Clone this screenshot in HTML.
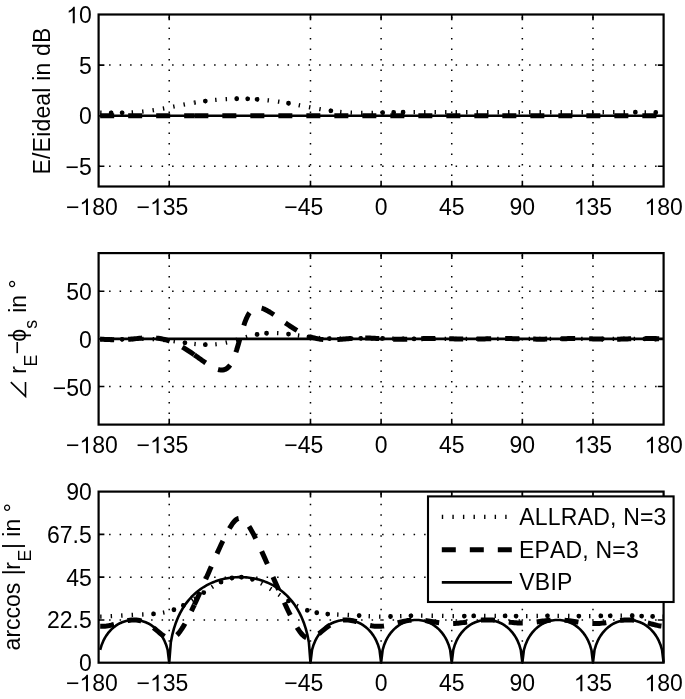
<!DOCTYPE html>
<html><head><meta charset="utf-8"><style>
html,body{margin:0;padding:0;background:#fff;overflow:hidden}
svg{display:block;filter:grayscale(1)}
text{font-family:"Liberation Sans",sans-serif;font-size:23px;fill:#000;font-kerning:none}
</style></head><body>
<svg width="685" height="699" viewBox="0 0 685 699">
<rect width="685" height="699" fill="#fff"/>
<path d="M169.22,186.50L169.22,14.50M310.48,186.50L310.48,14.50M381.10,186.50L381.10,14.50M451.73,186.50L451.73,14.50M522.35,186.50L522.35,14.50M592.98,186.50L592.98,14.50M98.60,166.26L663.60,166.26M98.60,115.68L663.60,115.68M98.60,65.09L663.60,65.09" stroke="#000" stroke-width="1.5" stroke-dasharray="1.5 9.0" fill="none"/>
<g stroke="#000" fill="none" stroke-linejoin="round">
<path d="M100.17,115.68 L101.74,115.68 L103.31,115.68 L104.88,115.68 L106.45,115.68 L108.02,115.68 L109.59,115.68 L111.16,115.68 L112.72,115.68 L114.29,115.68 L115.86,115.68 L117.43,115.68 L119.00,115.68 L120.57,115.68 L122.14,115.68 L123.71,115.68 L125.28,115.68 L126.85,115.68 L128.42,115.68 L129.99,115.68 L131.56,115.68 L133.13,115.68 L134.70,115.68 L136.27,115.68 L137.84,115.68 L139.41,115.68 L140.97,115.68 L142.54,115.68 L144.11,115.68 L145.68,115.68 L147.25,115.68 L148.82,115.68 L150.39,115.68 L151.96,115.68 L153.53,115.68 L155.10,115.68 L156.67,115.68 L158.24,115.68 L159.81,115.68 L161.38,115.68 L162.95,115.68 L164.52,115.68 L166.09,115.68 L167.66,115.68 L169.22,115.68 L170.79,115.68 L172.36,115.68 L173.93,115.68 L175.50,115.68 L177.07,115.68 L178.64,115.68 L180.21,115.68 L181.78,115.68 L183.35,115.68 L184.92,115.68 L186.49,115.68 L188.06,115.68 L189.63,115.68 L191.20,115.68 L192.77,115.68 L194.34,115.68 L195.91,115.68 L197.47,115.68 L199.04,115.68 L200.61,115.68 L202.18,115.68 L203.75,115.68 L205.32,115.68 L206.89,115.68 L208.46,115.68 L210.03,115.68 L211.60,115.68 L213.17,115.68 L214.74,115.68 L216.31,115.68 L217.88,115.68 L219.45,115.68 L221.02,115.68 L222.59,115.68 L224.16,115.68 L225.72,115.68 L227.29,115.68 L228.86,115.68 L230.43,115.68 L232.00,115.68 L233.57,115.68 L235.14,115.68 L236.71,115.68 L238.28,115.68 L239.85,115.68 L241.42,115.68 L242.99,115.68 L244.56,115.68 L246.13,115.68 L247.70,115.68 L249.27,115.68 L250.84,115.68 L252.41,115.68 L253.97,115.68 L255.54,115.68 L257.11,115.68 L258.68,115.68 L260.25,115.68 L261.82,115.68 L263.39,115.68 L264.96,115.68 L266.53,115.68 L268.10,115.68 L269.67,115.68 L271.24,115.68 L272.81,115.68 L274.38,115.68 L275.95,115.68 L277.52,115.68 L279.09,115.68 L280.66,115.68 L282.23,115.68 L283.79,115.68 L285.36,115.68 L286.93,115.68 L288.50,115.68 L290.07,115.68 L291.64,115.68 L293.21,115.68 L294.78,115.68 L296.35,115.68 L297.92,115.68 L299.49,115.68 L301.06,115.68 L302.63,115.68 L304.20,115.68 L305.77,115.68 L307.34,115.68 L308.91,115.68 L310.48,115.68 L312.04,115.68 L313.61,115.68 L315.18,115.68 L316.75,115.68 L318.32,115.68 L319.89,115.68 L321.46,115.68 L323.03,115.68 L324.60,115.68 L326.17,115.68 L327.74,115.68 L329.31,115.68 L330.88,115.68 L332.45,115.68 L334.02,115.68 L335.59,115.68 L337.16,115.68 L338.73,115.68 L340.29,115.68 L341.86,115.68 L343.43,115.68 L345.00,115.68 L346.57,115.68 L348.14,115.68 L349.71,115.68 L351.28,115.68 L352.85,115.68 L354.42,115.68 L355.99,115.68 L357.56,115.68 L359.13,115.68 L360.70,115.68 L362.27,115.68 L363.84,115.68 L365.41,115.68 L366.98,115.68 L368.54,115.68 L370.11,115.68 L371.68,115.68 L373.25,115.68 L374.82,115.68 L376.39,115.68 L377.96,115.68 L379.53,115.68 L381.10,115.68 L382.67,115.68 L384.24,115.68 L385.81,115.68 L387.38,115.68 L388.95,115.68 L390.52,115.68 L392.09,115.68 L393.66,115.68 L395.23,115.68 L396.79,115.68 L398.36,115.68 L399.93,115.68 L401.50,115.68 L403.07,115.68 L404.64,115.68 L406.21,115.68 L407.78,115.68 L409.35,115.68 L410.92,115.68 L412.49,115.68 L414.06,115.68 L415.63,115.68 L417.20,115.68 L418.77,115.68 L420.34,115.68 L421.91,115.68 L423.48,115.68 L425.04,115.68 L426.61,115.68 L428.18,115.68 L429.75,115.68 L431.32,115.68 L432.89,115.68 L434.46,115.68 L436.03,115.68 L437.60,115.68 L439.17,115.68 L440.74,115.68 L442.31,115.68 L443.88,115.68 L445.45,115.68 L447.02,115.68 L448.59,115.68 L450.16,115.68 L451.73,115.68 L453.29,115.68 L454.86,115.68 L456.43,115.68 L458.00,115.68 L459.57,115.68 L461.14,115.68 L462.71,115.68 L464.28,115.68 L465.85,115.68 L467.42,115.68 L468.99,115.68 L470.56,115.68 L472.13,115.68 L473.70,115.68 L475.27,115.68 L476.84,115.68 L478.41,115.68 L479.98,115.68 L481.54,115.68 L483.11,115.68 L484.68,115.68 L486.25,115.68 L487.82,115.68 L489.39,115.68 L490.96,115.68 L492.53,115.68 L494.10,115.68 L495.67,115.68 L497.24,115.68 L498.81,115.68 L500.38,115.68 L501.95,115.68 L503.52,115.68 L505.09,115.68 L506.66,115.68 L508.23,115.68 L509.79,115.68 L511.36,115.68 L512.93,115.68 L514.50,115.68 L516.07,115.68 L517.64,115.68 L519.21,115.68 L520.78,115.68 L522.35,115.68 L523.92,115.68 L525.49,115.68 L527.06,115.68 L528.63,115.68 L530.20,115.68 L531.77,115.68 L533.34,115.68 L534.91,115.68 L536.48,115.68 L538.04,115.68 L539.61,115.68 L541.18,115.68 L542.75,115.68 L544.32,115.68 L545.89,115.68 L547.46,115.68 L549.03,115.68 L550.60,115.68 L552.17,115.68 L553.74,115.68 L555.31,115.68 L556.88,115.68 L558.45,115.68 L560.02,115.68 L561.59,115.68 L563.16,115.68 L564.73,115.68 L566.29,115.68 L567.86,115.68 L569.43,115.68 L571.00,115.68 L572.57,115.68 L574.14,115.68 L575.71,115.68 L577.28,115.68 L578.85,115.68 L580.42,115.68 L581.99,115.68 L583.56,115.68 L585.13,115.68 L586.70,115.68 L588.27,115.68 L589.84,115.68 L591.41,115.68 L592.98,115.68 L594.54,115.68 L596.11,115.68 L597.68,115.68 L599.25,115.68 L600.82,115.68 L602.39,115.68 L603.96,115.68 L605.53,115.68 L607.10,115.68 L608.67,115.68 L610.24,115.68 L611.81,115.68 L613.38,115.68 L614.95,115.68 L616.52,115.68 L618.09,115.68 L619.66,115.68 L621.23,115.68 L622.79,115.68 L624.36,115.68 L625.93,115.68 L627.50,115.68 L629.07,115.68 L630.64,115.68 L632.21,115.68 L633.78,115.68 L635.35,115.68 L636.92,115.68 L638.49,115.68 L640.06,115.68 L641.63,115.68 L643.20,115.68 L644.77,115.68 L646.34,115.68 L647.91,115.68 L649.48,115.68 L651.04,115.68 L652.61,115.68 L654.18,115.68 L655.75,115.68 L657.32,115.68 L658.89,115.68 L660.46,115.68 L662.03,115.68 L663.60,115.68" stroke-width="2.6"/>
<path d="M100.17,115.68 L101.74,115.68 L103.31,115.68 L104.88,115.68 L106.45,115.68 L108.02,115.68 L109.59,115.68 L111.16,115.68 L112.72,115.68 L114.29,115.68 L115.86,115.68 L117.43,115.68 L119.00,115.68 L120.57,115.68 L122.14,115.68 L123.71,115.68 L125.28,115.68 L126.85,115.68 L128.42,115.68 L129.99,115.68 L131.56,115.68 L133.13,115.68 L134.70,115.68 L136.27,115.68 L137.84,115.68 L139.41,115.68 L140.97,115.68 L142.54,115.68 L144.11,115.68 L145.68,115.68 L147.25,115.68 L148.82,115.68 L150.39,115.68 L151.96,115.68 L153.53,115.68 L155.10,115.68 L156.67,115.68 L158.24,115.68 L159.81,115.68 L161.38,115.68 L162.95,115.68 L164.52,115.68 L166.09,115.68 L167.66,115.68 L169.22,115.68 L170.79,115.68 L172.36,115.68 L173.93,115.68 L175.50,115.68 L177.07,115.68 L178.64,115.68 L180.21,115.68 L181.78,115.68 L183.35,115.68 L184.92,115.68 L186.49,115.68 L188.06,115.68 L189.63,115.68 L191.20,115.68 L192.77,115.68 L194.34,115.68" stroke-width="5.0" stroke-dasharray="14 14"/>
<path d="M194.34,115.68 L195.91,115.68 L197.47,115.68 L199.04,115.68 L200.61,115.68 L202.18,115.68 L203.75,115.68 L205.32,115.68 L206.89,115.68 L208.46,115.68 L210.03,115.68 L211.60,115.68 L213.17,115.68 L214.74,115.68 L216.31,115.68 L217.88,115.68 L219.45,115.68 L221.02,115.68 L222.59,115.68 L224.16,115.68 L225.72,115.68 L227.29,115.68 L228.86,115.68 L230.43,115.68 L232.00,115.68 L233.57,115.68 L235.14,115.68 L236.71,115.68 L238.28,115.68 L239.85,115.68 L241.42,115.68 L242.99,115.68 L244.56,115.68 L246.13,115.68 L247.70,115.68 L249.27,115.68 L250.84,115.68 L252.41,115.68 L253.97,115.68 L255.54,115.68 L257.11,115.68 L258.68,115.68 L260.25,115.68 L261.82,115.68 L263.39,115.68 L264.96,115.68 L266.53,115.68 L268.10,115.68 L269.67,115.68 L271.24,115.68 L272.81,115.68 L274.38,115.68 L275.95,115.68 L277.52,115.68 L279.09,115.68 L280.66,115.68 L282.23,115.68 L283.79,115.68 L285.36,115.68 L286.93,115.68 L288.50,115.68 L290.07,115.68 L291.64,115.68 L293.21,115.68 L294.78,115.68 L296.35,115.68 L297.92,115.68 L299.49,115.68 L301.06,115.68 L302.63,115.68 L304.20,115.68 L305.77,115.68 L307.34,115.68 L308.91,115.68 L310.48,115.68 L312.04,115.68 L313.61,115.68 L315.18,115.68 L316.75,115.68 L318.32,115.68 L319.89,115.68 L321.46,115.68 L323.03,115.68 L324.60,115.68 L326.17,115.68 L327.74,115.68 L329.31,115.68 L330.88,115.68 L332.45,115.68 L334.02,115.68 L335.59,115.68 L337.16,115.68 L338.73,115.68 L340.29,115.68 L341.86,115.68 L343.43,115.68 L345.00,115.68 L346.57,115.68 L348.14,115.68 L349.71,115.68 L351.28,115.68 L352.85,115.68 L354.42,115.68 L355.99,115.68 L357.56,115.68 L359.13,115.68 L360.70,115.68 L362.27,115.68 L363.84,115.68 L365.41,115.68 L366.98,115.68 L368.54,115.68 L370.11,115.68 L371.68,115.68 L373.25,115.68 L374.82,115.68 L376.39,115.68 L377.96,115.68 L379.53,115.68 L381.10,115.68 L382.67,115.68 L384.24,115.68 L385.81,115.68 L387.38,115.68 L388.95,115.68 L390.52,115.68 L392.09,115.68 L393.66,115.68 L395.23,115.68 L396.79,115.68 L398.36,115.68 L399.93,115.68 L401.50,115.68 L403.07,115.68 L404.64,115.68 L406.21,115.68 L407.78,115.68 L409.35,115.68 L410.92,115.68 L412.49,115.68 L414.06,115.68 L415.63,115.68 L417.20,115.68 L418.77,115.68 L420.34,115.68 L421.91,115.68 L423.48,115.68 L425.04,115.68 L426.61,115.68 L428.18,115.68 L429.75,115.68 L431.32,115.68 L432.89,115.68 L434.46,115.68 L436.03,115.68 L437.60,115.68 L439.17,115.68 L440.74,115.68 L442.31,115.68 L443.88,115.68 L445.45,115.68 L447.02,115.68 L448.59,115.68 L450.16,115.68 L451.73,115.68 L453.29,115.68 L454.86,115.68 L456.43,115.68 L458.00,115.68 L459.57,115.68 L461.14,115.68 L462.71,115.68 L464.28,115.68 L465.85,115.68 L467.42,115.68 L468.99,115.68 L470.56,115.68 L472.13,115.68 L473.70,115.68 L475.27,115.68 L476.84,115.68 L478.41,115.68 L479.98,115.68 L481.54,115.68 L483.11,115.68 L484.68,115.68 L486.25,115.68 L487.82,115.68 L489.39,115.68 L490.96,115.68 L492.53,115.68 L494.10,115.68 L495.67,115.68 L497.24,115.68 L498.81,115.68 L500.38,115.68 L501.95,115.68 L503.52,115.68 L505.09,115.68 L506.66,115.68 L508.23,115.68 L509.79,115.68 L511.36,115.68 L512.93,115.68 L514.50,115.68 L516.07,115.68 L517.64,115.68 L519.21,115.68 L520.78,115.68 L522.35,115.68 L523.92,115.68 L525.49,115.68 L527.06,115.68 L528.63,115.68 L530.20,115.68 L531.77,115.68 L533.34,115.68 L534.91,115.68 L536.48,115.68 L538.04,115.68 L539.61,115.68 L541.18,115.68 L542.75,115.68 L544.32,115.68 L545.89,115.68 L547.46,115.68 L549.03,115.68 L550.60,115.68 L552.17,115.68 L553.74,115.68 L555.31,115.68 L556.88,115.68 L558.45,115.68 L560.02,115.68 L561.59,115.68 L563.16,115.68 L564.73,115.68 L566.29,115.68 L567.86,115.68 L569.43,115.68 L571.00,115.68 L572.57,115.68 L574.14,115.68 L575.71,115.68 L577.28,115.68 L578.85,115.68 L580.42,115.68 L581.99,115.68 L583.56,115.68 L585.13,115.68 L586.70,115.68 L588.27,115.68 L589.84,115.68 L591.41,115.68 L592.98,115.68 L594.54,115.68 L596.11,115.68 L597.68,115.68 L599.25,115.68 L600.82,115.68 L602.39,115.68 L603.96,115.68 L605.53,115.68 L607.10,115.68 L608.67,115.68 L610.24,115.68 L611.81,115.68 L613.38,115.68 L614.95,115.68 L616.52,115.68 L618.09,115.68 L619.66,115.68 L621.23,115.68 L622.79,115.68 L624.36,115.68 L625.93,115.68 L627.50,115.68 L629.07,115.68 L630.64,115.68 L632.21,115.68 L633.78,115.68 L635.35,115.68 L636.92,115.68 L638.49,115.68 L640.06,115.68 L641.63,115.68 L643.20,115.68 L644.77,115.68 L646.34,115.68 L647.91,115.68 L649.48,115.68 L651.04,115.68 L652.61,115.68 L654.18,115.68 L655.75,115.68 L657.32,115.68 L658.89,115.68 L660.46,115.68 L662.03,115.68 L663.60,115.68" stroke-width="5.0" stroke-dasharray="14 14"/>
<path d="M100.17,112.74 L101.74,112.77 L103.31,112.80 L104.88,112.84 L106.45,112.86 L108.02,112.89 L109.59,112.91 L111.16,112.93 L112.72,112.94 L114.29,112.94 L115.86,112.94 L117.43,112.94 L119.00,112.92 L120.57,112.90 L122.14,112.87 L123.71,112.84 L125.28,112.79 L126.85,112.73 L128.42,112.67 L129.99,112.59 L131.56,112.51 L133.13,112.41 L134.70,112.30 L136.27,112.18 L137.84,112.05 L139.41,111.91 L140.97,111.75 L142.54,111.59 L144.11,111.42 L145.68,111.23 L147.25,111.03 L148.82,110.82 L150.39,110.61 L151.96,110.38 L153.53,110.14 L155.10,109.90 L156.67,109.65 L158.24,109.38 L159.81,109.12 L161.38,108.84 L162.95,108.56 L164.52,108.28 L166.09,107.98 L167.66,107.69 L169.22,107.39 L170.79,107.09 L172.36,106.79 L173.93,106.49 L175.50,106.18 L177.07,105.88 L178.64,105.58 L180.21,105.27 L181.78,104.97 L183.35,104.68 L184.92,104.38 L186.49,104.09 L188.06,103.81 L189.63,103.53 L191.20,103.25 L192.77,102.98 L194.34,102.72" stroke-width="4.3" stroke-dasharray="1.4 9.1"/>
<path d="M111.16,112.93h0 M122.14,112.87h0" stroke-width="4.8" stroke-linecap="round"/>
<path d="M194.34,102.72 L195.91,102.46 L197.47,102.21 L199.04,101.96 L200.61,101.73 L202.18,101.50 L203.75,101.28 L205.32,101.06 L206.89,100.86 L208.46,100.66 L210.03,100.48 L211.60,100.30 L213.17,100.13 L214.74,99.97 L216.31,99.82 L217.88,99.68 L219.45,99.55 L221.02,99.43 L222.59,99.32 L224.16,99.21 L225.72,99.12 L227.29,99.04 L228.86,98.96 L230.43,98.90 L232.00,98.85 L233.57,98.80 L235.14,98.77 L236.71,98.74 L238.28,98.73 L239.85,98.73 L241.42,98.73 L242.99,98.74 L244.56,98.77 L246.13,98.80 L247.70,98.85 L249.27,98.90 L250.84,98.96 L252.41,99.04 L253.97,99.12 L255.54,99.21 L257.11,99.32 L258.68,99.43 L260.25,99.55 L261.82,99.68 L263.39,99.82 L264.96,99.97 L266.53,100.13 L268.10,100.30 L269.67,100.48 L271.24,100.66 L272.81,100.86 L274.38,101.06 L275.95,101.28 L277.52,101.50 L279.09,101.73 L280.66,101.96 L282.23,102.21 L283.79,102.46 L285.36,102.72 L286.93,102.98 L288.50,103.25 L290.07,103.53 L291.64,103.81 L293.21,104.09 L294.78,104.38 L296.35,104.68 L297.92,104.97 L299.49,105.27 L301.06,105.58 L302.63,105.88 L304.20,106.18 L305.77,106.49 L307.34,106.79 L308.91,107.09 L310.48,107.39 L312.04,107.69 L313.61,107.98 L315.18,108.28 L316.75,108.56 L318.32,108.84 L319.89,109.12 L321.46,109.38 L323.03,109.65 L324.60,109.90 L326.17,110.14 L327.74,110.38 L329.31,110.61 L330.88,110.82 L332.45,111.03 L334.02,111.23 L335.59,111.42 L337.16,111.59 L338.73,111.75 L340.29,111.91 L341.86,112.05 L343.43,112.18 L345.00,112.30 L346.57,112.41 L348.14,112.51 L349.71,112.59 L351.28,112.67 L352.85,112.73 L354.42,112.79 L355.99,112.84 L357.56,112.87 L359.13,112.90 L360.70,112.92 L362.27,112.94 L363.84,112.94 L365.41,112.94 L366.98,112.94 L368.54,112.93 L370.11,112.91 L371.68,112.89 L373.25,112.86 L374.82,112.84 L376.39,112.80 L377.96,112.77 L379.53,112.74 L381.10,112.70 L382.67,112.66 L384.24,112.63 L385.81,112.59 L387.38,112.55 L388.95,112.52 L390.52,112.48 L392.09,112.45 L393.66,112.42 L395.23,112.39 L396.79,112.36 L398.36,112.33 L399.93,112.30 L401.50,112.28 L403.07,112.26 L404.64,112.24 L406.21,112.22 L407.78,112.21 L409.35,112.20 L410.92,112.19 L412.49,112.18 L414.06,112.17 L415.63,112.17 L417.20,112.17 L418.77,112.16 L420.34,112.16 L421.91,112.16 L423.48,112.17 L425.04,112.17 L426.61,112.17 L428.18,112.18 L429.75,112.18 L431.32,112.19 L432.89,112.20 L434.46,112.20 L436.03,112.21 L437.60,112.21 L439.17,112.22 L440.74,112.22 L442.31,112.23 L443.88,112.23 L445.45,112.24 L447.02,112.24 L448.59,112.24 L450.16,112.25 L451.73,112.25 L453.29,112.25 L454.86,112.25 L456.43,112.25 L458.00,112.25 L459.57,112.25 L461.14,112.25 L462.71,112.25 L464.28,112.25 L465.85,112.25 L467.42,112.24 L468.99,112.24 L470.56,112.24 L472.13,112.24 L473.70,112.24 L475.27,112.23 L476.84,112.23 L478.41,112.23 L479.98,112.23 L481.54,112.23 L483.11,112.23 L484.68,112.22 L486.25,112.22 L487.82,112.22 L489.39,112.22 L490.96,112.22 L492.53,112.22 L494.10,112.23 L495.67,112.23 L497.24,112.23 L498.81,112.23 L500.38,112.23 L501.95,112.23 L503.52,112.23 L505.09,112.24 L506.66,112.24 L508.23,112.24 L509.79,112.24 L511.36,112.24 L512.93,112.24 L514.50,112.24 L516.07,112.25 L517.64,112.25 L519.21,112.25 L520.78,112.25 L522.35,112.25 L523.92,112.25 L525.49,112.25 L527.06,112.25 L528.63,112.25 L530.20,112.24 L531.77,112.24 L533.34,112.24 L534.91,112.24 L536.48,112.24 L538.04,112.24 L539.61,112.24 L541.18,112.23 L542.75,112.23 L544.32,112.23 L545.89,112.23 L547.46,112.23 L549.03,112.23 L550.60,112.23 L552.17,112.22 L553.74,112.22 L555.31,112.22 L556.88,112.22 L558.45,112.22 L560.02,112.22 L561.59,112.23 L563.16,112.23 L564.73,112.23 L566.29,112.23 L567.86,112.23 L569.43,112.23 L571.00,112.24 L572.57,112.24 L574.14,112.24 L575.71,112.24 L577.28,112.24 L578.85,112.25 L580.42,112.25 L581.99,112.25 L583.56,112.25 L585.13,112.25 L586.70,112.25 L588.27,112.25 L589.84,112.25 L591.41,112.25 L592.98,112.25 L594.54,112.25 L596.11,112.24 L597.68,112.24 L599.25,112.24 L600.82,112.23 L602.39,112.23 L603.96,112.22 L605.53,112.22 L607.10,112.21 L608.67,112.21 L610.24,112.20 L611.81,112.20 L613.38,112.19 L614.95,112.18 L616.52,112.18 L618.09,112.17 L619.66,112.17 L621.23,112.17 L622.79,112.16 L624.36,112.16 L625.93,112.16 L627.50,112.17 L629.07,112.17 L630.64,112.17 L632.21,112.18 L633.78,112.19 L635.35,112.20 L636.92,112.21 L638.49,112.22 L640.06,112.24 L641.63,112.26 L643.20,112.28 L644.77,112.30 L646.34,112.33 L647.91,112.36 L649.48,112.39 L651.04,112.42 L652.61,112.45 L654.18,112.48 L655.75,112.52 L657.32,112.55 L658.89,112.59 L660.46,112.63 L662.03,112.66 L663.60,112.70" stroke-width="4.3" stroke-dasharray="1.4 9.1"/>
<path d="M205.32,101.06h0 M236.71,98.74h0 M247.70,98.85h0 M257.11,99.32h0 M288.50,103.25h0 M330.88,110.82h0 M382.67,112.66h0 M393.66,112.42h0 M403.07,112.26h0 M635.35,112.20h0 M655.75,112.52h0" stroke-width="4.8" stroke-linecap="round"/>
</g>
<path d="M169.22,186.50v-5.8M169.22,14.50v5.8M310.48,186.50v-5.8M310.48,14.50v5.8M381.10,186.50v-5.8M381.10,14.50v5.8M451.73,186.50v-5.8M451.73,14.50v5.8M522.35,186.50v-5.8M522.35,14.50v5.8M592.98,186.50v-5.8M592.98,14.50v5.8M98.60,166.26h5.8M663.60,166.26h-5.8M98.60,115.68h5.8M663.60,115.68h-5.8M98.60,65.09h5.8M663.60,65.09h-5.8" stroke="#000" stroke-width="1.6" fill="none"/>
<rect x="98.60" y="14.50" width="565.00" height="172.00" stroke="#000" stroke-width="2.2" fill="none"/>
<text x="65.58" y="174.96" style="font-size:23px">−5</text>
<text x="79.01" y="124.38" style="font-size:23px">0</text>
<text x="79.01" y="73.79" style="font-size:23px">5</text>
<text x="66.22" y="23.20" style="font-size:23px"> 0</text><path transform="translate(66.22,23.20) scale(0.011230,-0.011230)" d="M763,0 L583,0 L583,1147 C540,1106 483,1064 412,1023 C342,982 278,951 222,930 L222,1104 C322,1151 410,1208 485,1274 C560,1341 613,1405 644,1466 L763,1466 Z"/>
<text x="65.98" y="215.00" style="font-size:23px">− 80</text><path transform="translate(79.41,215.00) scale(0.011230,-0.011230)" d="M763,0 L583,0 L583,1147 C540,1106 483,1064 412,1023 C342,982 278,951 222,930 L222,1104 C322,1151 410,1208 485,1274 C560,1341 613,1405 644,1466 L763,1466 Z"/>
<text x="136.61" y="215.00" style="font-size:23px">− 35</text><path transform="translate(150.04,215.00) scale(0.011230,-0.011230)" d="M763,0 L583,0 L583,1147 C540,1106 483,1064 412,1023 C342,982 278,951 222,930 L222,1104 C322,1151 410,1208 485,1274 C560,1341 613,1405 644,1466 L763,1466 Z"/>
<text x="284.25" y="215.00" style="font-size:23px">−45</text>
<text x="374.70" y="215.00" style="font-size:23px">0</text>
<text x="438.93" y="215.00" style="font-size:23px">45</text>
<text x="509.56" y="215.00" style="font-size:23px">90</text>
<text x="573.79" y="215.00" style="font-size:23px"> 35</text><path transform="translate(573.79,215.00) scale(0.011230,-0.011230)" d="M763,0 L583,0 L583,1147 C540,1106 483,1064 412,1023 C342,982 278,951 222,930 L222,1104 C322,1151 410,1208 485,1274 C560,1341 613,1405 644,1466 L763,1466 Z"/>
<text x="644.41" y="215.00" style="font-size:23px"> 80</text><path transform="translate(644.41,215.00) scale(0.011230,-0.011230)" d="M763,0 L583,0 L583,1147 C540,1106 483,1064 412,1023 C342,982 278,951 222,930 L222,1104 C322,1151 410,1208 485,1274 C560,1341 613,1405 644,1466 L763,1466 Z"/>
<path d="M169.22,424.60L169.22,253.10M310.48,424.60L310.48,253.10M381.10,424.60L381.10,253.10M451.73,424.60L451.73,253.10M522.35,424.60L522.35,253.10M592.98,424.60L592.98,253.10M98.60,386.49L663.60,386.49M98.60,338.85L663.60,338.85M98.60,291.21L663.60,291.21" stroke="#000" stroke-width="1.5" stroke-dasharray="1.5 9.0" fill="none"/>
<g stroke="#000" fill="none" stroke-linejoin="round">
<path d="M100.17,338.85 L101.74,338.85 L103.31,338.85 L104.88,338.85 L106.45,338.85 L108.02,338.85 L109.59,338.85 L111.16,338.85 L112.72,338.85 L114.29,338.85 L115.86,338.85 L117.43,338.85 L119.00,338.85 L120.57,338.85 L122.14,338.85 L123.71,338.85 L125.28,338.85 L126.85,338.85 L128.42,338.85 L129.99,338.85 L131.56,338.85 L133.13,338.85 L134.70,338.85 L136.27,338.85 L137.84,338.85 L139.41,338.85 L140.97,338.85 L142.54,338.85 L144.11,338.85 L145.68,338.85 L147.25,338.85 L148.82,338.85 L150.39,338.85 L151.96,338.85 L153.53,338.85 L155.10,338.85 L156.67,338.85 L158.24,338.85 L159.81,338.85 L161.38,338.85 L162.95,338.85 L164.52,338.85 L166.09,338.85 L167.66,338.85 L169.22,338.85 L170.79,338.85 L172.36,338.85 L173.93,338.85 L175.50,338.85 L177.07,338.85 L178.64,338.85 L180.21,338.85 L181.78,338.85 L183.35,338.85 L184.92,338.85 L186.49,338.85 L188.06,338.85 L189.63,338.85 L191.20,338.85 L192.77,338.85 L194.34,338.85 L195.91,338.85 L197.47,338.85 L199.04,338.85 L200.61,338.85 L202.18,338.85 L203.75,338.85 L205.32,338.85 L206.89,338.85 L208.46,338.85 L210.03,338.85 L211.60,338.85 L213.17,338.85 L214.74,338.85 L216.31,338.85 L217.88,338.85 L219.45,338.85 L221.02,338.85 L222.59,338.85 L224.16,338.85 L225.72,338.85 L227.29,338.85 L228.86,338.85 L230.43,338.85 L232.00,338.85 L233.57,338.85 L235.14,338.85 L236.71,338.85 L238.28,338.85 L239.85,338.85 L241.42,338.85 L242.99,338.85 L244.56,338.85 L246.13,338.85 L247.70,338.85 L249.27,338.85 L250.84,338.85 L252.41,338.85 L253.97,338.85 L255.54,338.85 L257.11,338.85 L258.68,338.85 L260.25,338.85 L261.82,338.85 L263.39,338.85 L264.96,338.85 L266.53,338.85 L268.10,338.85 L269.67,338.85 L271.24,338.85 L272.81,338.85 L274.38,338.85 L275.95,338.85 L277.52,338.85 L279.09,338.85 L280.66,338.85 L282.23,338.85 L283.79,338.85 L285.36,338.85 L286.93,338.85 L288.50,338.85 L290.07,338.85 L291.64,338.85 L293.21,338.85 L294.78,338.85 L296.35,338.85 L297.92,338.85 L299.49,338.85 L301.06,338.85 L302.63,338.85 L304.20,338.85 L305.77,338.85 L307.34,338.85 L308.91,338.85 L310.48,338.85 L312.04,338.85 L313.61,338.85 L315.18,338.85 L316.75,338.85 L318.32,338.85 L319.89,338.85 L321.46,338.85 L323.03,338.85 L324.60,338.85 L326.17,338.85 L327.74,338.85 L329.31,338.85 L330.88,338.85 L332.45,338.85 L334.02,338.85 L335.59,338.85 L337.16,338.85 L338.73,338.85 L340.29,338.85 L341.86,338.85 L343.43,338.85 L345.00,338.85 L346.57,338.85 L348.14,338.85 L349.71,338.85 L351.28,338.85 L352.85,338.85 L354.42,338.85 L355.99,338.85 L357.56,338.85 L359.13,338.85 L360.70,338.85 L362.27,338.85 L363.84,338.85 L365.41,338.85 L366.98,338.85 L368.54,338.85 L370.11,338.85 L371.68,338.85 L373.25,338.85 L374.82,338.85 L376.39,338.85 L377.96,338.85 L379.53,338.85 L381.10,338.85 L382.67,338.85 L384.24,338.85 L385.81,338.85 L387.38,338.85 L388.95,338.85 L390.52,338.85 L392.09,338.85 L393.66,338.85 L395.23,338.85 L396.79,338.85 L398.36,338.85 L399.93,338.85 L401.50,338.85 L403.07,338.85 L404.64,338.85 L406.21,338.85 L407.78,338.85 L409.35,338.85 L410.92,338.85 L412.49,338.85 L414.06,338.85 L415.63,338.85 L417.20,338.85 L418.77,338.85 L420.34,338.85 L421.91,338.85 L423.48,338.85 L425.04,338.85 L426.61,338.85 L428.18,338.85 L429.75,338.85 L431.32,338.85 L432.89,338.85 L434.46,338.85 L436.03,338.85 L437.60,338.85 L439.17,338.85 L440.74,338.85 L442.31,338.85 L443.88,338.85 L445.45,338.85 L447.02,338.85 L448.59,338.85 L450.16,338.85 L451.73,338.85 L453.29,338.85 L454.86,338.85 L456.43,338.85 L458.00,338.85 L459.57,338.85 L461.14,338.85 L462.71,338.85 L464.28,338.85 L465.85,338.85 L467.42,338.85 L468.99,338.85 L470.56,338.85 L472.13,338.85 L473.70,338.85 L475.27,338.85 L476.84,338.85 L478.41,338.85 L479.98,338.85 L481.54,338.85 L483.11,338.85 L484.68,338.85 L486.25,338.85 L487.82,338.85 L489.39,338.85 L490.96,338.85 L492.53,338.85 L494.10,338.85 L495.67,338.85 L497.24,338.85 L498.81,338.85 L500.38,338.85 L501.95,338.85 L503.52,338.85 L505.09,338.85 L506.66,338.85 L508.23,338.85 L509.79,338.85 L511.36,338.85 L512.93,338.85 L514.50,338.85 L516.07,338.85 L517.64,338.85 L519.21,338.85 L520.78,338.85 L522.35,338.85 L523.92,338.85 L525.49,338.85 L527.06,338.85 L528.63,338.85 L530.20,338.85 L531.77,338.85 L533.34,338.85 L534.91,338.85 L536.48,338.85 L538.04,338.85 L539.61,338.85 L541.18,338.85 L542.75,338.85 L544.32,338.85 L545.89,338.85 L547.46,338.85 L549.03,338.85 L550.60,338.85 L552.17,338.85 L553.74,338.85 L555.31,338.85 L556.88,338.85 L558.45,338.85 L560.02,338.85 L561.59,338.85 L563.16,338.85 L564.73,338.85 L566.29,338.85 L567.86,338.85 L569.43,338.85 L571.00,338.85 L572.57,338.85 L574.14,338.85 L575.71,338.85 L577.28,338.85 L578.85,338.85 L580.42,338.85 L581.99,338.85 L583.56,338.85 L585.13,338.85 L586.70,338.85 L588.27,338.85 L589.84,338.85 L591.41,338.85 L592.98,338.85 L594.54,338.85 L596.11,338.85 L597.68,338.85 L599.25,338.85 L600.82,338.85 L602.39,338.85 L603.96,338.85 L605.53,338.85 L607.10,338.85 L608.67,338.85 L610.24,338.85 L611.81,338.85 L613.38,338.85 L614.95,338.85 L616.52,338.85 L618.09,338.85 L619.66,338.85 L621.23,338.85 L622.79,338.85 L624.36,338.85 L625.93,338.85 L627.50,338.85 L629.07,338.85 L630.64,338.85 L632.21,338.85 L633.78,338.85 L635.35,338.85 L636.92,338.85 L638.49,338.85 L640.06,338.85 L641.63,338.85 L643.20,338.85 L644.77,338.85 L646.34,338.85 L647.91,338.85 L649.48,338.85 L651.04,338.85 L652.61,338.85 L654.18,338.85 L655.75,338.85 L657.32,338.85 L658.89,338.85 L660.46,338.85 L662.03,338.85 L663.60,338.85" stroke-width="2.6"/>
<path d="M100.17,339.11 L101.74,339.20 L103.31,339.29 L104.88,339.38 L106.45,339.46 L108.02,339.53 L109.59,339.60 L111.16,339.65 L112.72,339.70 L114.29,339.73 L115.86,339.75 L117.43,339.75 L119.00,339.74 L120.57,339.71 L122.14,339.66 L123.71,339.60 L125.28,339.52 L126.85,339.42 L128.42,339.32 L129.99,339.19 L131.56,339.06 L133.13,338.92 L134.70,338.78 L136.27,338.63 L137.84,338.48 L139.41,338.34 L140.97,338.20 L142.54,338.08 L144.11,337.97 L145.68,337.88 L147.25,337.82 L148.82,337.78 L150.39,337.78 L151.96,337.80 L153.53,337.87 L155.10,337.97 L156.67,338.12 L158.24,338.31 L159.81,338.54 L161.38,338.82 L162.95,339.15 L164.52,339.53 L166.09,339.96 L167.66,340.43 L169.22,340.95 L170.79,341.53 L172.36,342.14 L173.93,342.81 L175.50,343.51 L177.07,344.27 L178.64,345.06 L180.21,345.89 L181.78,346.76 L183.35,347.67 L184.92,348.61 L186.49,349.59 L188.06,350.59 L189.63,351.62 L191.20,352.67 L192.77,353.74 L194.34,354.84" stroke-width="5.0" stroke-dasharray="14 14"/>
<path d="M194.34,354.84 L195.91,355.94 L197.47,357.06 L199.04,358.18 L200.61,359.30 L202.18,360.42 L203.75,361.53 L205.32,362.62 L206.89,363.68 L208.46,364.71 L210.03,365.70 L211.60,366.63 L213.17,367.50 L214.74,368.28 L216.31,368.95 L217.88,369.49 L219.45,369.89 L221.02,370.09 L222.59,370.07 L224.16,369.78 L225.72,369.16 L227.29,368.14 L228.86,366.66 L230.43,364.63 L232.00,361.97 L233.57,358.61 L235.14,354.53 L236.71,349.77 L238.28,344.46 L239.85,338.85 L241.42,333.24 L242.99,327.93 L244.56,323.17 L246.13,319.09 L247.70,315.73 L249.27,313.07 L250.84,311.04 L252.41,309.56 L253.97,308.54 L255.54,307.92 L257.11,307.63 L258.68,307.61 L260.25,307.81 L261.82,308.21 L263.39,308.75 L264.96,309.42 L266.53,310.20 L268.10,311.07 L269.67,312.00 L271.24,312.99 L272.81,314.02 L274.38,315.08 L275.95,316.17 L277.52,317.28 L279.09,318.40 L280.66,319.52 L282.23,320.64 L283.79,321.76 L285.36,322.86 L286.93,323.96 L288.50,325.03 L290.07,326.08 L291.64,327.11 L293.21,328.11 L294.78,329.09 L296.35,330.03 L297.92,330.94 L299.49,331.81 L301.06,332.64 L302.63,333.43 L304.20,334.19 L305.77,334.89 L307.34,335.56 L308.91,336.17 L310.48,336.75 L312.04,337.27 L313.61,337.74 L315.18,338.17 L316.75,338.55 L318.32,338.88 L319.89,339.16 L321.46,339.39 L323.03,339.58 L324.60,339.73 L326.17,339.83 L327.74,339.90 L329.31,339.92 L330.88,339.92 L332.45,339.88 L334.02,339.82 L335.59,339.73 L337.16,339.62 L338.73,339.50 L340.29,339.36 L341.86,339.22 L343.43,339.07 L345.00,338.92 L346.57,338.78 L348.14,338.64 L349.71,338.51 L351.28,338.38 L352.85,338.28 L354.42,338.18 L355.99,338.10 L357.56,338.04 L359.13,337.99 L360.70,337.96 L362.27,337.95 L363.84,337.95 L365.41,337.97 L366.98,338.00 L368.54,338.05 L370.11,338.10 L371.68,338.17 L373.25,338.24 L374.82,338.32 L376.39,338.41 L377.96,338.50 L379.53,338.59 L381.10,338.68 L382.67,338.77 L384.24,338.85 L385.81,338.94 L387.38,339.01 L388.95,339.08 L390.52,339.14 L392.09,339.19 L393.66,339.23 L395.23,339.26 L396.79,339.28 L398.36,339.29 L399.93,339.29 L401.50,339.28 L403.07,339.26 L404.64,339.24 L406.21,339.20 L407.78,339.16 L409.35,339.11 L410.92,339.06 L412.49,339.00 L414.06,338.94 L415.63,338.88 L417.20,338.82 L418.77,338.76 L420.34,338.70 L421.91,338.65 L423.48,338.60 L425.04,338.56 L426.61,338.52 L428.18,338.49 L429.75,338.47 L431.32,338.45 L432.89,338.44 L434.46,338.44 L436.03,338.45 L437.60,338.46 L439.17,338.48 L440.74,338.51 L442.31,338.54 L443.88,338.58 L445.45,338.62 L447.02,338.67 L448.59,338.71 L450.16,338.76 L451.73,338.81 L453.29,338.86 L454.86,338.91 L456.43,338.95 L458.00,338.99 L459.57,339.03 L461.14,339.07 L462.71,339.10 L464.28,339.12 L465.85,339.14 L467.42,339.15 L468.99,339.16 L470.56,339.16 L472.13,339.15 L473.70,339.14 L475.27,339.12 L476.84,339.09 L478.41,339.06 L479.98,339.03 L481.54,338.99 L483.11,338.95 L484.68,338.91 L486.25,338.87 L487.82,338.83 L489.39,338.79 L490.96,338.75 L492.53,338.71 L494.10,338.67 L495.67,338.64 L497.24,338.61 L498.81,338.59 L500.38,338.57 L501.95,338.56 L503.52,338.55 L505.09,338.55 L506.66,338.56 L508.23,338.57 L509.79,338.58 L511.36,338.60 L512.93,338.63 L514.50,338.66 L516.07,338.69 L517.64,338.73 L519.21,338.77 L520.78,338.81 L522.35,338.85 L523.92,338.89 L525.49,338.93 L527.06,338.97 L528.63,339.01 L530.20,339.04 L531.77,339.07 L533.34,339.10 L534.91,339.12 L536.48,339.13 L538.04,339.14 L539.61,339.15 L541.18,339.15 L542.75,339.14 L544.32,339.13 L545.89,339.11 L547.46,339.09 L549.03,339.06 L550.60,339.03 L552.17,338.99 L553.74,338.95 L555.31,338.91 L556.88,338.87 L558.45,338.83 L560.02,338.79 L561.59,338.75 L563.16,338.71 L564.73,338.67 L566.29,338.64 L567.86,338.61 L569.43,338.58 L571.00,338.56 L572.57,338.55 L574.14,338.54 L575.71,338.54 L577.28,338.55 L578.85,338.56 L580.42,338.58 L581.99,338.60 L583.56,338.63 L585.13,338.67 L586.70,338.71 L588.27,338.75 L589.84,338.79 L591.41,338.84 L592.98,338.89 L594.54,338.94 L596.11,338.99 L597.68,339.03 L599.25,339.08 L600.82,339.12 L602.39,339.16 L603.96,339.19 L605.53,339.22 L607.10,339.24 L608.67,339.25 L610.24,339.26 L611.81,339.26 L613.38,339.25 L614.95,339.23 L616.52,339.21 L618.09,339.18 L619.66,339.14 L621.23,339.10 L622.79,339.05 L624.36,339.00 L625.93,338.94 L627.50,338.88 L629.07,338.82 L630.64,338.76 L632.21,338.70 L633.78,338.64 L635.35,338.59 L636.92,338.54 L638.49,338.50 L640.06,338.46 L641.63,338.44 L643.20,338.42 L644.77,338.41 L646.34,338.41 L647.91,338.42 L649.48,338.44 L651.04,338.47 L652.61,338.51 L654.18,338.56 L655.75,338.62 L657.32,338.69 L658.89,338.76 L660.46,338.85 L662.03,338.93 L663.60,339.02" stroke-width="5.0" stroke-dasharray="14 14"/>
<path d="M100.17,339.33 L101.74,339.35 L103.31,339.37 L104.88,339.39 L106.45,339.40 L108.02,339.41 L109.59,339.42 L111.16,339.42 L112.72,339.41 L114.29,339.41 L115.86,339.39 L117.43,339.38 L119.00,339.36 L120.57,339.33 L122.14,339.31 L123.71,339.28 L125.28,339.24 L126.85,339.21 L128.42,339.17 L129.99,339.14 L131.56,339.10 L133.13,339.07 L134.70,339.04 L136.27,339.01 L137.84,338.99 L139.41,338.97 L140.97,338.96 L142.54,338.96 L144.11,338.97 L145.68,338.98 L147.25,339.00 L148.82,339.04 L150.39,339.08 L151.96,339.14 L153.53,339.21 L155.10,339.29 L156.67,339.39 L158.24,339.50 L159.81,339.62 L161.38,339.75 L162.95,339.90 L164.52,340.05 L166.09,340.22 L167.66,340.40 L169.22,340.59 L170.79,340.79 L172.36,340.99 L173.93,341.21 L175.50,341.42 L177.07,341.65 L178.64,341.87 L180.21,342.10 L181.78,342.33 L183.35,342.55 L184.92,342.78 L186.49,342.99 L188.06,343.21 L189.63,343.41 L191.20,343.61 L192.77,343.79 L194.34,343.96" stroke-width="4.3" stroke-dasharray="1.4 9.1"/>
<path d="M122.14,339.31h0 M184.92,342.78h0" stroke-width="4.8" stroke-linecap="round"/>
<path d="M194.34,343.96 L195.91,344.12 L197.47,344.26 L199.04,344.39 L200.61,344.49 L202.18,344.58 L203.75,344.64 L205.32,344.67 L206.89,344.69 L208.46,344.67 L210.03,344.63 L211.60,344.57 L213.17,344.47 L214.74,344.34 L216.31,344.19 L217.88,344.00 L219.45,343.78 L221.02,343.54 L222.59,343.27 L224.16,342.96 L225.72,342.64 L227.29,342.28 L228.86,341.91 L230.43,341.51 L232.00,341.10 L233.57,340.67 L235.14,340.23 L236.71,339.77 L238.28,339.31 L239.85,338.85 L241.42,338.39 L242.99,337.93 L244.56,337.47 L246.13,337.03 L247.70,336.60 L249.27,336.19 L250.84,335.79 L252.41,335.42 L253.97,335.06 L255.54,334.74 L257.11,334.43 L258.68,334.16 L260.25,333.92 L261.82,333.70 L263.39,333.51 L264.96,333.36 L266.53,333.23 L268.10,333.13 L269.67,333.07 L271.24,333.03 L272.81,333.01 L274.38,333.03 L275.95,333.06 L277.52,333.12 L279.09,333.21 L280.66,333.31 L282.23,333.44 L283.79,333.58 L285.36,333.74 L286.93,333.91 L288.50,334.09 L290.07,334.29 L291.64,334.49 L293.21,334.71 L294.78,334.92 L296.35,335.15 L297.92,335.37 L299.49,335.60 L301.06,335.83 L302.63,336.05 L304.20,336.28 L305.77,336.49 L307.34,336.71 L308.91,336.91 L310.48,337.11 L312.04,337.30 L313.61,337.48 L315.18,337.65 L316.75,337.80 L318.32,337.95 L319.89,338.08 L321.46,338.20 L323.03,338.31 L324.60,338.41 L326.17,338.49 L327.74,338.56 L329.31,338.62 L330.88,338.66 L332.45,338.70 L334.02,338.72 L335.59,338.73 L337.16,338.74 L338.73,338.74 L340.29,338.73 L341.86,338.71 L343.43,338.69 L345.00,338.66 L346.57,338.63 L348.14,338.60 L349.71,338.56 L351.28,338.53 L352.85,338.49 L354.42,338.46 L355.99,338.42 L357.56,338.39 L359.13,338.37 L360.70,338.34 L362.27,338.32 L363.84,338.31 L365.41,338.29 L366.98,338.29 L368.54,338.28 L370.11,338.28 L371.68,338.29 L373.25,338.30 L374.82,338.31 L376.39,338.33 L377.96,338.35 L379.53,338.37 L381.10,338.40 L382.67,338.43 L384.24,338.46 L385.81,338.49 L387.38,338.52 L388.95,338.55 L390.52,338.59 L392.09,338.62 L393.66,338.65 L395.23,338.68 L396.79,338.71 L398.36,338.74 L399.93,338.77 L401.50,338.80 L403.07,338.82 L404.64,338.84 L406.21,338.86 L407.78,338.88 L409.35,338.89 L410.92,338.91 L412.49,338.92 L414.06,338.92 L415.63,338.93 L417.20,338.93 L418.77,338.94 L420.34,338.94 L421.91,338.94 L423.48,338.93 L425.04,338.93 L426.61,338.93 L428.18,338.92 L429.75,338.91 L431.32,338.91 L432.89,338.90 L434.46,338.89 L436.03,338.89 L437.60,338.88 L439.17,338.87 L440.74,338.87 L442.31,338.86 L443.88,338.86 L445.45,338.85 L447.02,338.85 L448.59,338.85 L450.16,338.84 L451.73,338.84 L453.29,338.84 L454.86,338.84 L456.43,338.84 L458.00,338.84 L459.57,338.84 L461.14,338.84 L462.71,338.84 L464.28,338.84 L465.85,338.84 L467.42,338.84 L468.99,338.85 L470.56,338.85 L472.13,338.85 L473.70,338.85 L475.27,338.85 L476.84,338.85 L478.41,338.86 L479.98,338.86 L481.54,338.86 L483.11,338.86 L484.68,338.86 L486.25,338.86 L487.82,338.86 L489.39,338.86 L490.96,338.86 L492.53,338.86 L494.10,338.86 L495.67,338.86 L497.24,338.85 L498.81,338.85 L500.38,338.85 L501.95,338.85 L503.52,338.85 L505.09,338.85 L506.66,338.85 L508.23,338.85 L509.79,338.85 L511.36,338.85 L512.93,338.85 L514.50,338.85 L516.07,338.85 L517.64,338.85 L519.21,338.85 L520.78,338.85 L522.35,338.85 L523.92,338.85 L525.49,338.85 L527.06,338.85 L528.63,338.85 L530.20,338.85 L531.77,338.85 L533.34,338.85 L534.91,338.85 L536.48,338.85 L538.04,338.85 L539.61,338.85 L541.18,338.85 L542.75,338.85 L544.32,338.85 L545.89,338.85 L547.46,338.85 L549.03,338.84 L550.60,338.84 L552.17,338.84 L553.74,338.84 L555.31,338.84 L556.88,338.84 L558.45,338.84 L560.02,338.84 L561.59,338.84 L563.16,338.84 L564.73,338.84 L566.29,338.84 L567.86,338.85 L569.43,338.85 L571.00,338.85 L572.57,338.85 L574.14,338.85 L575.71,338.85 L577.28,338.86 L578.85,338.86 L580.42,338.86 L581.99,338.86 L583.56,338.86 L585.13,338.86 L586.70,338.86 L588.27,338.86 L589.84,338.86 L591.41,338.86 L592.98,338.86 L594.54,338.86 L596.11,338.85 L597.68,338.85 L599.25,338.85 L600.82,338.84 L602.39,338.84 L603.96,338.83 L605.53,338.83 L607.10,338.82 L608.67,338.81 L610.24,338.81 L611.81,338.80 L613.38,338.79 L614.95,338.79 L616.52,338.78 L618.09,338.77 L619.66,338.77 L621.23,338.77 L622.79,338.76 L624.36,338.76 L625.93,338.76 L627.50,338.77 L629.07,338.77 L630.64,338.78 L632.21,338.78 L633.78,338.79 L635.35,338.81 L636.92,338.82 L638.49,338.84 L640.06,338.86 L641.63,338.88 L643.20,338.90 L644.77,338.93 L646.34,338.96 L647.91,338.99 L649.48,339.02 L651.04,339.05 L652.61,339.08 L654.18,339.11 L655.75,339.15 L657.32,339.18 L658.89,339.21 L660.46,339.24 L662.03,339.27 L663.60,339.30" stroke-width="4.3" stroke-dasharray="1.4 9.1"/>
<path d="M205.32,344.67h0 M257.11,334.43h0 M266.53,333.23h0 M288.50,334.09h0 M308.91,336.91h0 M329.31,338.62h0 M351.28,338.53h0 M360.70,338.34h0 M382.67,338.43h0 M403.07,338.82h0 M414.06,338.92h0 M602.39,338.84h0 M644.77,338.93h0 M655.75,339.15h0" stroke-width="4.8" stroke-linecap="round"/>
</g>
<path d="M169.22,424.60v-5.8M169.22,253.10v5.8M310.48,424.60v-5.8M310.48,253.10v5.8M381.10,424.60v-5.8M381.10,253.10v5.8M451.73,424.60v-5.8M451.73,253.10v5.8M522.35,424.60v-5.8M522.35,253.10v5.8M592.98,424.60v-5.8M592.98,253.10v5.8M98.60,386.49h5.8M663.60,386.49h-5.8M98.60,338.85h5.8M663.60,338.85h-5.8M98.60,291.21h5.8M663.60,291.21h-5.8" stroke="#000" stroke-width="1.6" fill="none"/>
<rect x="98.60" y="253.10" width="565.00" height="171.50" stroke="#000" stroke-width="2.2" fill="none"/>
<text x="52.79" y="395.64" style="font-size:23px">−50</text>
<text x="79.01" y="348.00" style="font-size:23px">0</text>
<text x="66.22" y="300.36" style="font-size:23px">50</text>
<text x="65.98" y="453.30" style="font-size:23px">− 80</text><path transform="translate(79.41,453.30) scale(0.011230,-0.011230)" d="M763,0 L583,0 L583,1147 C540,1106 483,1064 412,1023 C342,982 278,951 222,930 L222,1104 C322,1151 410,1208 485,1274 C560,1341 613,1405 644,1466 L763,1466 Z"/>
<text x="136.61" y="453.30" style="font-size:23px">− 35</text><path transform="translate(150.04,453.30) scale(0.011230,-0.011230)" d="M763,0 L583,0 L583,1147 C540,1106 483,1064 412,1023 C342,982 278,951 222,930 L222,1104 C322,1151 410,1208 485,1274 C560,1341 613,1405 644,1466 L763,1466 Z"/>
<text x="284.25" y="453.30" style="font-size:23px">−45</text>
<text x="374.70" y="453.30" style="font-size:23px">0</text>
<text x="438.93" y="453.30" style="font-size:23px">45</text>
<text x="509.56" y="453.30" style="font-size:23px">90</text>
<text x="573.79" y="453.30" style="font-size:23px"> 35</text><path transform="translate(573.79,453.30) scale(0.011230,-0.011230)" d="M763,0 L583,0 L583,1147 C540,1106 483,1064 412,1023 C342,982 278,951 222,930 L222,1104 C322,1151 410,1208 485,1274 C560,1341 613,1405 644,1466 L763,1466 Z"/>
<text x="644.41" y="453.30" style="font-size:23px"> 80</text><path transform="translate(644.41,453.30) scale(0.011230,-0.011230)" d="M763,0 L583,0 L583,1147 C540,1106 483,1064 412,1023 C342,982 278,951 222,930 L222,1104 C322,1151 410,1208 485,1274 C560,1341 613,1405 644,1466 L763,1466 Z"/>
<path d="M169.22,662.70L169.22,491.60M310.48,662.70L310.48,491.60M381.10,662.70L381.10,491.60M451.73,662.70L451.73,491.60M522.35,662.70L522.35,491.60M592.98,662.70L592.98,491.60M98.60,619.93L663.60,619.93M98.60,577.15L663.60,577.15M98.60,534.38L663.60,534.38" stroke="#000" stroke-width="1.5" stroke-dasharray="1.5 9.0" fill="none"/>
<g stroke="#000" fill="none" stroke-linejoin="round">
<path d="M100.17,649.78 L101.74,644.68 L103.31,640.93 L104.88,637.91 L106.45,635.38 L108.02,633.20 L109.59,631.30 L111.16,629.63 L112.72,628.16 L114.29,626.84 L115.86,625.68 L117.43,624.65 L119.00,623.74 L120.57,622.95 L122.14,622.25 L123.71,621.66 L125.28,621.16 L126.85,620.75 L128.42,620.42 L129.99,620.18 L131.56,620.02 L133.13,619.94 L134.70,619.94 L136.27,620.02 L137.84,620.18 L139.41,620.42 L140.97,620.75 L142.54,621.16 L144.11,621.66 L145.68,622.25 L147.25,622.95 L148.82,623.74 L150.39,624.65 L151.96,625.68 L153.53,626.84 L155.10,628.16 L156.67,629.63 L158.24,631.30 L159.81,633.20 L161.38,635.38 L162.95,637.91 L164.52,640.93 L166.09,644.68 L167.66,649.78 L169.22,662.70 L170.79,642.58 L172.36,634.57 L173.93,628.64 L175.50,623.81 L177.07,619.69 L178.64,616.10 L180.21,612.91 L181.78,610.04 L183.35,607.44 L184.92,605.06 L186.49,602.87 L188.06,600.86 L189.63,599.00 L191.20,597.27 L192.77,595.66 L194.34,594.16 L195.91,592.76 L197.47,591.45 L199.04,590.23 L200.61,589.09 L202.18,588.02 L203.75,587.02 L205.32,586.08 L206.89,585.20 L208.46,584.39 L210.03,583.62 L211.60,582.91 L213.17,582.25 L214.74,581.63 L216.31,581.06 L217.88,580.54 L219.45,580.05 L221.02,579.61 L222.59,579.21 L224.16,578.84 L225.72,578.52 L227.29,578.23 L228.86,577.97 L230.43,577.75 L232.00,577.57 L233.57,577.42 L235.14,577.30 L236.71,577.22 L238.28,577.17 L239.85,577.15 L241.42,577.17 L242.99,577.22 L244.56,577.30 L246.13,577.42 L247.70,577.57 L249.27,577.75 L250.84,577.97 L252.41,578.23 L253.97,578.52 L255.54,578.84 L257.11,579.21 L258.68,579.61 L260.25,580.05 L261.82,580.54 L263.39,581.06 L264.96,581.63 L266.53,582.25 L268.10,582.91 L269.67,583.62 L271.24,584.39 L272.81,585.20 L274.38,586.08 L275.95,587.02 L277.52,588.02 L279.09,589.09 L280.66,590.23 L282.23,591.45 L283.79,592.76 L285.36,594.16 L286.93,595.66 L288.50,597.27 L290.07,599.00 L291.64,600.86 L293.21,602.87 L294.78,605.06 L296.35,607.44 L297.92,610.04 L299.49,612.91 L301.06,616.10 L302.63,619.69 L304.20,623.81 L305.77,628.64 L307.34,634.57 L308.91,642.58 L310.48,662.70 L312.04,649.78 L313.61,644.68 L315.18,640.93 L316.75,637.91 L318.32,635.38 L319.89,633.20 L321.46,631.30 L323.03,629.63 L324.60,628.16 L326.17,626.84 L327.74,625.68 L329.31,624.65 L330.88,623.74 L332.45,622.95 L334.02,622.25 L335.59,621.66 L337.16,621.16 L338.73,620.75 L340.29,620.42 L341.86,620.18 L343.43,620.02 L345.00,619.94 L346.57,619.94 L348.14,620.02 L349.71,620.18 L351.28,620.42 L352.85,620.75 L354.42,621.16 L355.99,621.66 L357.56,622.25 L359.13,622.95 L360.70,623.74 L362.27,624.65 L363.84,625.68 L365.41,626.84 L366.98,628.16 L368.54,629.63 L370.11,631.30 L371.68,633.20 L373.25,635.38 L374.82,637.91 L376.39,640.93 L377.96,644.68 L379.53,649.78 L381.10,662.70 L382.67,649.78 L384.24,644.68 L385.81,640.93 L387.38,637.91 L388.95,635.38 L390.52,633.20 L392.09,631.30 L393.66,629.63 L395.23,628.16 L396.79,626.84 L398.36,625.68 L399.93,624.65 L401.50,623.74 L403.07,622.95 L404.64,622.25 L406.21,621.66 L407.78,621.16 L409.35,620.75 L410.92,620.42 L412.49,620.18 L414.06,620.02 L415.63,619.94 L417.20,619.94 L418.77,620.02 L420.34,620.18 L421.91,620.42 L423.48,620.75 L425.04,621.16 L426.61,621.66 L428.18,622.25 L429.75,622.95 L431.32,623.74 L432.89,624.65 L434.46,625.68 L436.03,626.84 L437.60,628.16 L439.17,629.63 L440.74,631.30 L442.31,633.20 L443.88,635.38 L445.45,637.91 L447.02,640.93 L448.59,644.68 L450.16,649.78 L451.73,662.70 L453.29,649.78 L454.86,644.68 L456.43,640.93 L458.00,637.91 L459.57,635.38 L461.14,633.20 L462.71,631.30 L464.28,629.63 L465.85,628.16 L467.42,626.84 L468.99,625.68 L470.56,624.65 L472.13,623.74 L473.70,622.95 L475.27,622.25 L476.84,621.66 L478.41,621.16 L479.98,620.75 L481.54,620.42 L483.11,620.18 L484.68,620.02 L486.25,619.94 L487.82,619.94 L489.39,620.02 L490.96,620.18 L492.53,620.42 L494.10,620.75 L495.67,621.16 L497.24,621.66 L498.81,622.25 L500.38,622.95 L501.95,623.74 L503.52,624.65 L505.09,625.68 L506.66,626.84 L508.23,628.16 L509.79,629.63 L511.36,631.30 L512.93,633.20 L514.50,635.38 L516.07,637.91 L517.64,640.93 L519.21,644.68 L520.78,649.78 L522.35,662.70 L523.92,649.78 L525.49,644.68 L527.06,640.93 L528.63,637.91 L530.20,635.38 L531.77,633.20 L533.34,631.30 L534.91,629.63 L536.48,628.16 L538.04,626.84 L539.61,625.68 L541.18,624.65 L542.75,623.74 L544.32,622.95 L545.89,622.25 L547.46,621.66 L549.03,621.16 L550.60,620.75 L552.17,620.42 L553.74,620.18 L555.31,620.02 L556.88,619.94 L558.45,619.94 L560.02,620.02 L561.59,620.18 L563.16,620.42 L564.73,620.75 L566.29,621.16 L567.86,621.66 L569.43,622.25 L571.00,622.95 L572.57,623.74 L574.14,624.65 L575.71,625.68 L577.28,626.84 L578.85,628.16 L580.42,629.63 L581.99,631.30 L583.56,633.20 L585.13,635.38 L586.70,637.91 L588.27,640.93 L589.84,644.68 L591.41,649.78 L592.98,662.70 L594.54,649.78 L596.11,644.68 L597.68,640.93 L599.25,637.91 L600.82,635.38 L602.39,633.20 L603.96,631.30 L605.53,629.63 L607.10,628.16 L608.67,626.84 L610.24,625.68 L611.81,624.65 L613.38,623.74 L614.95,622.95 L616.52,622.25 L618.09,621.66 L619.66,621.16 L621.23,620.75 L622.79,620.42 L624.36,620.18 L625.93,620.02 L627.50,619.94 L629.07,619.94 L630.64,620.02 L632.21,620.18 L633.78,620.42 L635.35,620.75 L636.92,621.16 L638.49,621.66 L640.06,622.25 L641.63,622.95 L643.20,623.74 L644.77,624.65 L646.34,625.68 L647.91,626.84 L649.48,628.16 L651.04,629.63 L652.61,631.30 L654.18,633.20 L655.75,635.38 L657.32,637.91 L658.89,640.93 L660.46,644.68 L662.03,649.78 L663.60,662.70" stroke-width="2.6"/>
<path d="M100.17,626.35 L101.74,626.37 L103.31,626.32 L104.88,626.20 L106.45,626.02 L108.02,625.78 L109.59,625.48 L111.16,625.13 L112.72,624.73 L114.29,624.30 L115.86,623.84 L117.43,623.37 L119.00,622.89 L120.57,622.41 L122.14,621.94 L123.71,621.50 L125.28,621.10 L126.85,620.74 L128.42,620.43 L129.99,620.19 L131.56,620.02 L133.13,619.94 L134.70,619.94 L136.27,620.03 L137.84,620.22 L139.41,620.52 L140.97,620.92 L142.54,621.43 L144.11,622.05 L145.68,622.77 L147.25,623.60 L148.82,624.53 L150.39,625.55 L151.96,626.66 L153.53,627.84 L155.10,629.08 L156.67,630.36 L158.24,631.66 L159.81,632.96 L161.38,634.22 L162.95,635.41 L164.52,636.47 L166.09,637.36 L167.66,638.03 L169.22,638.41 L170.79,638.47 L172.36,638.17 L173.93,637.48 L175.50,636.41 L177.07,634.99 L178.64,633.24 L180.21,631.19 L181.78,628.90 L183.35,626.38 L184.92,623.68 L186.49,620.81 L188.06,617.81 L189.63,614.70 L191.20,611.49 L192.77,608.20 L194.34,604.83" stroke-width="5.0" stroke-dasharray="14 14"/>
<path d="M194.34,604.83 L195.91,601.41 L197.47,597.94 L199.04,594.43 L200.61,590.89 L202.18,587.32 L203.75,583.73 L205.32,580.13 L206.89,576.53 L208.46,572.93 L210.03,569.33 L211.60,565.74 L213.17,562.17 L214.74,558.62 L216.31,555.10 L217.88,551.63 L219.45,548.20 L221.02,544.82 L222.59,541.52 L224.16,538.30 L225.72,535.19 L227.29,532.21 L228.86,529.38 L230.43,526.76 L232.00,524.37 L233.57,522.28 L235.14,520.55 L236.71,519.25 L238.28,518.45 L239.85,518.17 L241.42,518.45 L242.99,519.25 L244.56,520.55 L246.13,522.28 L247.70,524.37 L249.27,526.76 L250.84,529.38 L252.41,532.21 L253.97,535.19 L255.54,538.30 L257.11,541.52 L258.68,544.82 L260.25,548.20 L261.82,551.63 L263.39,555.10 L264.96,558.62 L266.53,562.17 L268.10,565.74 L269.67,569.33 L271.24,572.93 L272.81,576.53 L274.38,580.13 L275.95,583.73 L277.52,587.32 L279.09,590.89 L280.66,594.43 L282.23,597.94 L283.79,601.41 L285.36,604.83 L286.93,608.20 L288.50,611.49 L290.07,614.70 L291.64,617.81 L293.21,620.81 L294.78,623.68 L296.35,626.38 L297.92,628.90 L299.49,631.19 L301.06,633.24 L302.63,634.99 L304.20,636.41 L305.77,637.48 L307.34,638.17 L308.91,638.47 L310.48,638.41 L312.04,638.03 L313.61,637.36 L315.18,636.47 L316.75,635.41 L318.32,634.22 L319.89,632.96 L321.46,631.66 L323.03,630.36 L324.60,629.08 L326.17,627.84 L327.74,626.66 L329.31,625.55 L330.88,624.53 L332.45,623.60 L334.02,622.77 L335.59,622.05 L337.16,621.43 L338.73,620.92 L340.29,620.52 L341.86,620.22 L343.43,620.03 L345.00,619.94 L346.57,619.94 L348.14,620.02 L349.71,620.19 L351.28,620.43 L352.85,620.74 L354.42,621.10 L355.99,621.50 L357.56,621.94 L359.13,622.41 L360.70,622.89 L362.27,623.37 L363.84,623.84 L365.41,624.30 L366.98,624.73 L368.54,625.13 L370.11,625.48 L371.68,625.78 L373.25,626.02 L374.82,626.20 L376.39,626.32 L377.96,626.37 L379.53,626.35 L381.10,626.27 L382.67,626.12 L384.24,625.92 L385.81,625.67 L387.38,625.37 L388.95,625.03 L390.52,624.65 L392.09,624.26 L393.66,623.85 L395.23,623.43 L396.79,623.01 L398.36,622.60 L399.93,622.20 L401.50,621.82 L403.07,621.46 L404.64,621.13 L406.21,620.84 L407.78,620.58 L409.35,620.37 L410.92,620.19 L412.49,620.06 L414.06,619.97 L415.63,619.93 L417.20,619.93 L418.77,619.97 L420.34,620.05 L421.91,620.17 L423.48,620.32 L425.04,620.50 L426.61,620.71 L428.18,620.94 L429.75,621.19 L431.32,621.44 L432.89,621.71 L434.46,621.97 L436.03,622.23 L437.60,622.48 L439.17,622.72 L440.74,622.93 L442.31,623.12 L443.88,623.29 L445.45,623.42 L447.02,623.52 L448.59,623.58 L450.16,623.61 L451.73,623.60 L453.29,623.56 L454.86,623.48 L456.43,623.36 L458.00,623.22 L459.57,623.05 L461.14,622.85 L462.71,622.64 L464.28,622.41 L465.85,622.17 L467.42,621.92 L468.99,621.67 L470.56,621.42 L472.13,621.18 L473.70,620.96 L475.27,620.74 L476.84,620.55 L478.41,620.38 L479.98,620.23 L481.54,620.11 L483.11,620.02 L484.68,619.96 L486.25,619.93 L487.82,619.93 L489.39,619.96 L490.96,620.02 L492.53,620.11 L494.10,620.22 L495.67,620.36 L497.24,620.52 L498.81,620.70 L500.38,620.90 L501.95,621.10 L503.52,621.32 L505.09,621.54 L506.66,621.75 L508.23,621.96 L509.79,622.17 L511.36,622.36 L512.93,622.53 L514.50,622.68 L516.07,622.81 L517.64,622.92 L519.21,622.99 L520.78,623.04 L522.35,623.06 L523.92,623.04 L525.49,622.99 L527.06,622.92 L528.63,622.81 L530.20,622.68 L531.77,622.53 L533.34,622.36 L534.91,622.17 L536.48,621.96 L538.04,621.75 L539.61,621.54 L541.18,621.32 L542.75,621.10 L544.32,620.90 L545.89,620.70 L547.46,620.52 L549.03,620.36 L550.60,620.22 L552.17,620.11 L553.74,620.02 L555.31,619.96 L556.88,619.93 L558.45,619.93 L560.02,619.96 L561.59,620.02 L563.16,620.11 L564.73,620.23 L566.29,620.38 L567.86,620.55 L569.43,620.74 L571.00,620.96 L572.57,621.18 L574.14,621.42 L575.71,621.67 L577.28,621.92 L578.85,622.17 L580.42,622.41 L581.99,622.64 L583.56,622.85 L585.13,623.05 L586.70,623.22 L588.27,623.36 L589.84,623.48 L591.41,623.56 L592.98,623.60 L594.54,623.61 L596.11,623.58 L597.68,623.52 L599.25,623.42 L600.82,623.29 L602.39,623.12 L603.96,622.93 L605.53,622.72 L607.10,622.48 L608.67,622.23 L610.24,621.97 L611.81,621.71 L613.38,621.44 L614.95,621.19 L616.52,620.94 L618.09,620.71 L619.66,620.50 L621.23,620.32 L622.79,620.17 L624.36,620.05 L625.93,619.97 L627.50,619.93 L629.07,619.93 L630.64,619.97 L632.21,620.06 L633.78,620.19 L635.35,620.37 L636.92,620.58 L638.49,620.84 L640.06,621.13 L641.63,621.46 L643.20,621.82 L644.77,622.20 L646.34,622.60 L647.91,623.01 L649.48,623.43 L651.04,623.85 L652.61,624.26 L654.18,624.65 L655.75,625.03 L657.32,625.37 L658.89,625.67 L660.46,625.92 L662.03,626.12 L663.60,626.27" stroke-width="5.0" stroke-dasharray="14 14"/>
<path d="M100.17,616.56 L101.74,616.54 L103.31,616.50 L104.88,616.46 L106.45,616.41 L108.02,616.34 L109.59,616.27 L111.16,616.20 L112.72,616.11 L114.29,616.02 L115.86,615.92 L117.43,615.82 L119.00,615.72 L120.57,615.62 L122.14,615.51 L123.71,615.41 L125.28,615.31 L126.85,615.21 L128.42,615.12 L129.99,615.03 L131.56,614.95 L133.13,614.87 L134.70,614.80 L136.27,614.73 L137.84,614.67 L139.41,614.61 L140.97,614.55 L142.54,614.49 L144.11,614.43 L145.68,614.37 L147.25,614.31 L148.82,614.24 L150.39,614.15 L151.96,614.06 L153.53,613.94 L155.10,613.81 L156.67,613.66 L158.24,613.48 L159.81,613.27 L161.38,613.03 L162.95,612.76 L164.52,612.45 L166.09,612.11 L167.66,611.72 L169.22,611.29 L170.79,610.82 L172.36,610.31 L173.93,609.75 L175.50,609.15 L177.07,608.50 L178.64,607.81 L180.21,607.08 L181.78,606.31 L183.35,605.50 L184.92,604.65 L186.49,603.77 L188.06,602.85 L189.63,601.91 L191.20,600.93 L192.77,599.94 L194.34,598.92" stroke-width="4.3" stroke-dasharray="1.4 9.1"/>
<path d="M153.53,613.94h0 M173.93,609.75h0 M183.35,605.50h0" stroke-width="4.8" stroke-linecap="round"/>
<path d="M194.34,598.92 L195.91,597.88 L197.47,596.84 L199.04,595.78 L200.61,594.71 L202.18,593.64 L203.75,592.58 L205.32,591.51 L206.89,590.46 L208.46,589.42 L210.03,588.40 L211.60,587.39 L213.17,586.41 L214.74,585.46 L216.31,584.55 L217.88,583.67 L219.45,582.83 L221.02,582.03 L222.59,581.28 L224.16,580.59 L225.72,579.95 L227.29,579.36 L228.86,578.84 L230.43,578.38 L232.00,577.99 L233.57,577.67 L235.14,577.42 L236.71,577.23 L238.28,577.13 L239.85,577.09 L241.42,577.13 L242.99,577.23 L244.56,577.42 L246.13,577.67 L247.70,577.99 L249.27,578.38 L250.84,578.84 L252.41,579.36 L253.97,579.95 L255.54,580.59 L257.11,581.28 L258.68,582.03 L260.25,582.83 L261.82,583.67 L263.39,584.55 L264.96,585.46 L266.53,586.41 L268.10,587.39 L269.67,588.40 L271.24,589.42 L272.81,590.46 L274.38,591.51 L275.95,592.58 L277.52,593.64 L279.09,594.71 L280.66,595.78 L282.23,596.84 L283.79,597.88 L285.36,598.92 L286.93,599.94 L288.50,600.93 L290.07,601.91 L291.64,602.85 L293.21,603.77 L294.78,604.65 L296.35,605.50 L297.92,606.31 L299.49,607.08 L301.06,607.81 L302.63,608.50 L304.20,609.15 L305.77,609.75 L307.34,610.31 L308.91,610.82 L310.48,611.29 L312.04,611.72 L313.61,612.11 L315.18,612.45 L316.75,612.76 L318.32,613.03 L319.89,613.27 L321.46,613.48 L323.03,613.66 L324.60,613.81 L326.17,613.94 L327.74,614.06 L329.31,614.15 L330.88,614.24 L332.45,614.31 L334.02,614.37 L335.59,614.43 L337.16,614.49 L338.73,614.55 L340.29,614.61 L341.86,614.67 L343.43,614.73 L345.00,614.80 L346.57,614.87 L348.14,614.95 L349.71,615.03 L351.28,615.12 L352.85,615.21 L354.42,615.31 L355.99,615.41 L357.56,615.51 L359.13,615.62 L360.70,615.72 L362.27,615.82 L363.84,615.92 L365.41,616.02 L366.98,616.11 L368.54,616.20 L370.11,616.27 L371.68,616.34 L373.25,616.41 L374.82,616.46 L376.39,616.50 L377.96,616.54 L379.53,616.56 L381.10,616.58 L382.67,616.58 L384.24,616.58 L385.81,616.56 L387.38,616.54 L388.95,616.51 L390.52,616.48 L392.09,616.43 L393.66,616.39 L395.23,616.33 L396.79,616.28 L398.36,616.22 L399.93,616.17 L401.50,616.11 L403.07,616.05 L404.64,615.99 L406.21,615.94 L407.78,615.89 L409.35,615.84 L410.92,615.80 L412.49,615.76 L414.06,615.73 L415.63,615.70 L417.20,615.68 L418.77,615.67 L420.34,615.66 L421.91,615.65 L423.48,615.66 L425.04,615.66 L426.61,615.67 L428.18,615.69 L429.75,615.71 L431.32,615.73 L432.89,615.76 L434.46,615.78 L436.03,615.81 L437.60,615.84 L439.17,615.87 L440.74,615.90 L442.31,615.93 L443.88,615.96 L445.45,615.98 L447.02,616.01 L448.59,616.03 L450.16,616.04 L451.73,616.06 L453.29,616.07 L454.86,616.08 L456.43,616.08 L458.00,616.08 L459.57,616.08 L461.14,616.07 L462.71,616.06 L464.28,616.05 L465.85,616.04 L467.42,616.02 L468.99,616.01 L470.56,615.99 L472.13,615.97 L473.70,615.95 L475.27,615.93 L476.84,615.92 L478.41,615.90 L479.98,615.89 L481.54,615.87 L483.11,615.86 L484.68,615.85 L486.25,615.85 L487.82,615.84 L489.39,615.84 L490.96,615.84 L492.53,615.85 L494.10,615.85 L495.67,615.86 L497.24,615.87 L498.81,615.89 L500.38,615.90 L501.95,615.92 L503.52,615.93 L505.09,615.95 L506.66,615.96 L508.23,615.98 L509.79,616.00 L511.36,616.01 L512.93,616.03 L514.50,616.04 L516.07,616.05 L517.64,616.06 L519.21,616.06 L520.78,616.07 L522.35,616.07 L523.92,616.07 L525.49,616.06 L527.06,616.06 L528.63,616.05 L530.20,616.04 L531.77,616.03 L533.34,616.01 L534.91,616.00 L536.48,615.98 L538.04,615.96 L539.61,615.95 L541.18,615.93 L542.75,615.92 L544.32,615.90 L545.89,615.89 L547.46,615.87 L549.03,615.86 L550.60,615.85 L552.17,615.85 L553.74,615.84 L555.31,615.84 L556.88,615.84 L558.45,615.85 L560.02,615.85 L561.59,615.86 L563.16,615.87 L564.73,615.89 L566.29,615.90 L567.86,615.92 L569.43,615.93 L571.00,615.95 L572.57,615.97 L574.14,615.99 L575.71,616.01 L577.28,616.02 L578.85,616.04 L580.42,616.05 L581.99,616.06 L583.56,616.07 L585.13,616.08 L586.70,616.08 L588.27,616.08 L589.84,616.08 L591.41,616.07 L592.98,616.06 L594.54,616.04 L596.11,616.03 L597.68,616.01 L599.25,615.98 L600.82,615.96 L602.39,615.93 L603.96,615.90 L605.53,615.87 L607.10,615.84 L608.67,615.81 L610.24,615.78 L611.81,615.76 L613.38,615.73 L614.95,615.71 L616.52,615.69 L618.09,615.67 L619.66,615.66 L621.23,615.66 L622.79,615.65 L624.36,615.66 L625.93,615.67 L627.50,615.68 L629.07,615.70 L630.64,615.73 L632.21,615.76 L633.78,615.80 L635.35,615.84 L636.92,615.89 L638.49,615.94 L640.06,615.99 L641.63,616.05 L643.20,616.11 L644.77,616.17 L646.34,616.22 L647.91,616.28 L649.48,616.33 L651.04,616.39 L652.61,616.43 L654.18,616.48 L655.75,616.51 L657.32,616.54 L658.89,616.56 L660.46,616.58 L662.03,616.58 L663.60,616.58" stroke-width="4.3" stroke-dasharray="1.4 9.1"/>
<path d="M203.75,592.58h0 M221.02,582.03h0 M232.00,577.99h0 M241.42,577.13h0 M252.41,579.36h0 M288.50,600.93h0 M307.34,610.31h0 M316.75,612.76h0 M327.74,614.06h0 M359.13,615.62h0 M390.52,616.48h0 M410.92,615.80h0 M464.28,616.05h0 M473.70,615.95h0 M505.09,615.95h0 M516.07,616.05h0 M547.46,615.87h0 M578.85,616.04h0 M600.82,615.96h0 M610.24,615.78h0 M632.21,615.76h0 M641.63,616.05h0 M652.61,616.43h0" stroke-width="4.8" stroke-linecap="round"/>
</g>
<path d="M169.22,662.70v-5.8M169.22,491.60v5.8M310.48,662.70v-5.8M310.48,491.60v5.8M381.10,662.70v-5.8M381.10,491.60v5.8M451.73,662.70v-5.8M451.73,491.60v5.8M522.35,662.70v-5.8M522.35,491.60v5.8M592.98,662.70v-5.8M592.98,491.60v5.8M98.60,619.93h5.8M663.60,619.93h-5.8M98.60,577.15h5.8M663.60,577.15h-5.8M98.60,534.38h5.8M663.60,534.38h-5.8" stroke="#000" stroke-width="1.6" fill="none"/>
<rect x="98.60" y="491.60" width="565.00" height="171.10" stroke="#000" stroke-width="2.2" fill="none"/>
<text x="79.01" y="671.25" style="font-size:23px">0</text>
<text x="47.04" y="628.48" style="font-size:23px">22.5</text>
<text x="66.22" y="585.70" style="font-size:23px">45</text>
<text x="47.04" y="542.92" style="font-size:23px">67.5</text>
<text x="66.22" y="500.15" style="font-size:23px">90</text>
<text x="65.98" y="691.30" style="font-size:23px">− 80</text><path transform="translate(79.41,691.30) scale(0.011230,-0.011230)" d="M763,0 L583,0 L583,1147 C540,1106 483,1064 412,1023 C342,982 278,951 222,930 L222,1104 C322,1151 410,1208 485,1274 C560,1341 613,1405 644,1466 L763,1466 Z"/>
<text x="136.61" y="691.30" style="font-size:23px">− 35</text><path transform="translate(150.04,691.30) scale(0.011230,-0.011230)" d="M763,0 L583,0 L583,1147 C540,1106 483,1064 412,1023 C342,982 278,951 222,930 L222,1104 C322,1151 410,1208 485,1274 C560,1341 613,1405 644,1466 L763,1466 Z"/>
<text x="284.25" y="691.30" style="font-size:23px">−45</text>
<text x="374.70" y="691.30" style="font-size:23px">0</text>
<text x="438.93" y="691.30" style="font-size:23px">45</text>
<text x="509.56" y="691.30" style="font-size:23px">90</text>
<text x="573.79" y="691.30" style="font-size:23px"> 35</text><path transform="translate(573.79,691.30) scale(0.011230,-0.011230)" d="M763,0 L583,0 L583,1147 C540,1106 483,1064 412,1023 C342,982 278,951 222,930 L222,1104 C322,1151 410,1208 485,1274 C560,1341 613,1405 644,1466 L763,1466 Z"/>
<text x="644.41" y="691.30" style="font-size:23px"> 80</text><path transform="translate(644.41,691.30) scale(0.011230,-0.011230)" d="M763,0 L583,0 L583,1147 C540,1106 483,1064 412,1023 C342,982 278,951 222,930 L222,1104 C322,1151 410,1208 485,1274 C560,1341 613,1405 644,1466 L763,1466 Z"/>
<text transform="translate(49.7,172.6) rotate(-90)" x="-1.89" y="0" letter-spacing="0.18">E/Eideal in dB</text>
<g transform="translate(20,649.3) rotate(-90)"><text x="-1.09" y="0">arccos</text><text x="74.1" y="0">|</text><text x="79.45" y="0">r</text><text x="87.9" y="10.9" style="font-size:17.8px">E</text><text x="100.3" y="0">| in °</text></g>
<g transform="translate(25.6,397) rotate(-90)"><path d="M14.8,-14.8 L0.6,-0.1 L15,-0.1" stroke="#000" stroke-width="1.6" fill="none" stroke-linejoin="miter"/><text x="23.2" y="0">r</text><text x="30.6" y="11.3" style="font-size:17.8px">E</text><text x="42.8" y="-0.9">−</text><text x="55.3" y="0">ϕ</text><text x="68.3" y="11.6" style="font-size:17.8px">s</text><text x="84.2" y="0">in</text><text x="108.5" y="-0.7">°</text></g>
<rect x="428" y="496.4" width="245.6" height="105.6" fill="#fff" stroke="#000" stroke-width="2.1"/>
<path d="M441.8,516.8H512" stroke="#000" stroke-width="4.3" stroke-dasharray="1.4 9.17" fill="none"/>
<path d="M441.8,549.8H512" stroke="#000" stroke-width="5.0" stroke-dasharray="14 14" fill="none"/>
<path d="M441.8,582.4H512" stroke="#000" stroke-width="2.6" fill="none"/>
<text x="519.3" y="525.4" letter-spacing="0.2">ALLRAD, N=3</text>
<text x="518.9" y="558" letter-spacing="0.2">EPAD, N=3</text>
<text x="519.3" y="590.4" letter-spacing="0.2">VBIP</text>
</svg>
</body></html>
